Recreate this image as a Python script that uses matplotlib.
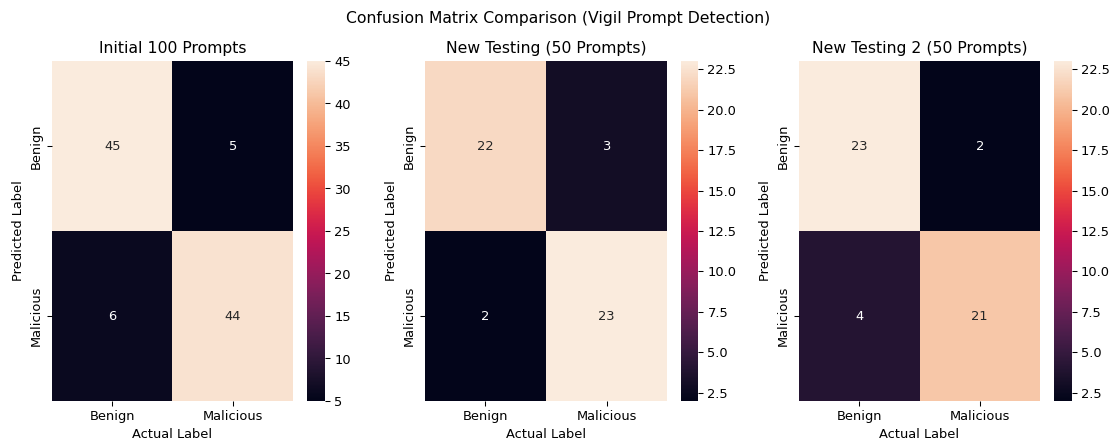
import matplotlib
matplotlib.use("Agg")
import matplotlib.pyplot as plt
import numpy as np
import seaborn as sns

# rotulos e matrizes de confusao (linhas = predito, colunas = real)
labels = ["Benign", "Malicious"]
titles = ["Initial 100 Prompts", "New Testing (50 Prompts)", "New Testing 2 (50 Prompts)"]

cm_initial = np.array([[45, 5],
                       [6, 44]])
cm_new = np.array([[22, 3],
                   [2, 23]])
cm_new2 = np.array([[23, 2],
                    [4, 21]])

matrizes = [cm_initial, cm_new, cm_new2]

fig = plt.figure(figsize=(11.872, 4.713), dpi=94)

# posicoes [left, bottom, width, height] de cada heatmap e colorbar
pos_ax = [[0.0466, 0.0948, 0.2159, 0.7675],
          [0.3808, 0.0948, 0.2169, 0.7675],
          [0.7160, 0.0948, 0.2159, 0.7675]]
pos_cb = [[0.2751, 0.0948, 0.0161, 0.7675],
          [0.6102, 0.0948, 0.0155, 0.7675],
          [0.9444, 0.0948, 0.0161, 0.7675]]

for i in range(3):
    ax = fig.add_axes(pos_ax[i])
    cax = fig.add_axes(pos_cb[i])
    sns.heatmap(matrizes[i], annot=True, fmt="d", cmap="rocket",
                xticklabels=labels, yticklabels=labels, ax=ax, cbar_ax=cax)
    ax.set_title(titles[i], fontsize=12)
    ax.set_xlabel("Actual Label")
    ax.set_ylabel("Predicted Label")
    plt.setp(ax.get_yticklabels(), rotation=90, va="center")

fig.suptitle("Confusion Matrix Comparison (Vigil Prompt Detection)", fontsize=12, y=0.975)

plt.savefig("out.png", dpi=94)
